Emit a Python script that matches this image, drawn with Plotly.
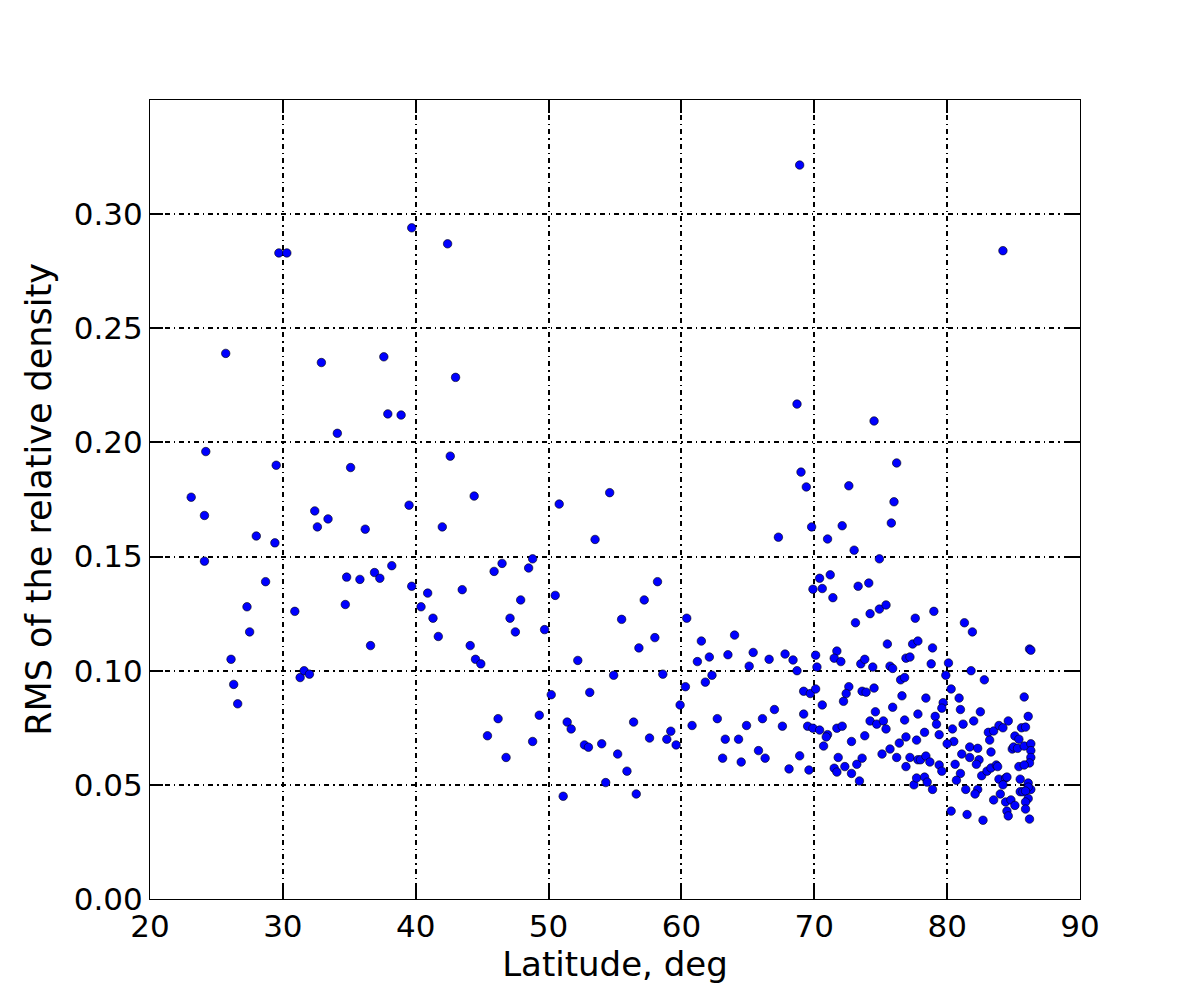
import plotly.graph_objects as go

# Latitude (deg) and RMS of the relative density
lat = [
 23.1, 24.1, 24.2, 24.1, 25.7, 26.1, 26.3, 26.6, 27.3, 27.5, 28.0, 28.7, 29.4, 29.5, 29.7, 30.3,
 30.9, 31.3, 31.6, 32.0, 32.4, 32.6, 32.9, 33.4, 34.1, 34.7, 34.8, 35.1, 35.8, 36.2, 36.6, 36.9,
 37.3, 37.6, 37.9, 38.2, 38.9, 39.5, 39.7, 39.7, 40.4, 40.9, 41.3, 41.7, 42.0, 42.4, 42.6, 43.0,
 43.5, 44.1, 44.4, 44.5, 44.9, 45.4, 45.9, 46.2, 46.5, 46.8, 47.1, 47.5, 47.9, 48.5, 48.8, 48.8,
 49.3, 49.7, 50.2, 50.5, 50.8, 51.1, 51.4, 51.7, 52.2, 52.7, 53.0, 53.1, 53.5, 54.0, 54.3, 54.6,
 54.9, 55.2, 55.5, 55.9, 56.4, 56.6, 56.8, 57.2, 57.6, 58.0, 58.2, 58.6, 58.9, 59.2, 59.6, 59.9,
 60.3, 60.4,
 61.2, 61.5, 62.1, 61.8, 62.3, 64.0, 63.5, 60.8, 62.7, 63.3, 64.3, 63.1,
 68.9, 84.2, 68.7, 74.5, 76.2, 69.0, 69.4, 72.6, 76.0, 69.8, 72.1, 75.8, 67.3, 71.0,
 73.0, 74.9, 70.4, 71.2, 69.9, 70.6, 71.4, 73.3, 74.1, 74.2, 74.9, 75.4, 73.1, 77.6,
 75.5, 77.4, 77.8, 65.4, 65.1, 66.6, 67.8, 68.4, 68.7, 70.1, 70.2, 71.7, 71.5, 72.0,
 73.5, 73.8, 74.4, 75.7, 75.9, 76.9, 77.2, 76.5, 76.8, 76.6, 75.9, 69.2, 69.7, 70.1,
 70.6, 72.6, 72.4, 72.2, 73.6, 73.9, 74.5, 74.6, 74.2, 74.7, 75.2, 75.4, 76.8, 77.8,
 67.0, 66.1, 64.9, 67.6, 69.2, 69.5, 69.9, 70.4, 71.0, 70.9, 70.7, 71.7, 72.1, 72.8,
 73.8, 64.5, 65.8, 66.3, 68.1, 68.9, 69.6, 71.8, 71.5, 71.7, 72.3, 72.8, 73.2, 73.6,
 73.4, 75.1, 75.7, 76.2, 76.4, 76.9, 77.2, 76.9, 77.5, 77.7, 77.7, 77.8,
 79.0, 81.3, 81.9, 78.9, 78.8, 80.1, 86.2, 86.3, 79.9, 81.8, 82.8, 80.3, 78.4, 79.7,
 79.6, 80.9, 81.0, 82.5, 85.8, 79.1, 79.2, 82.0, 81.2, 80.4, 78.3, 79.4, 80.5, 80.0,
 83.1, 83.5, 83.9, 84.2, 84.6, 83.2, 85.6, 85.9, 86.1, 85.1, 85.4, 81.7, 82.3, 81.1,
 81.7, 82.4, 82.2, 83.3, 84.9, 85.0, 85.3, 85.8, 86.3, 86.3, 86.3, 86.2, 85.4, 85.8,
 78.0, 78.4, 78.7, 79.4, 79.6, 80.6, 81.0, 80.7, 82.6, 83.0, 83.3, 83.7, 83.8, 78.3,
 78.5, 78.9, 83.9, 84.4, 84.5, 84.2, 85.5, 86.1, 86.3, 86.1, 81.4, 82.3, 82.1, 84.0,
 83.5, 85.5, 85.7, 85.9, 84.4, 84.8, 85.1, 86.1, 85.9, 80.3, 81.5, 82.7, 84.5, 84.6,
 85.9, 86.2,
]
rms = [
 0.176, 0.168, 0.196, 0.148, 0.239, 0.105, 0.094, 0.0855, 0.128, 0.117, 0.159, 0.139, 0.156, 0.190, 0.283, 0.283,
 0.126, 0.097, 0.100, 0.0985, 0.170, 0.163, 0.235, 0.1665, 0.204, 0.129, 0.141, 0.189, 0.140, 0.162, 0.111, 0.143,
 0.1405, 0.2375, 0.2125, 0.146, 0.212, 0.1725, 0.294, 0.137, 0.128, 0.134, 0.123, 0.115, 0.163, 0.287, 0.194, 0.2285,
 0.1355, 0.111, 0.1765, 0.105, 0.103, 0.0715, 0.1435, 0.079, 0.147, 0.062, 0.123, 0.117, 0.131, 0.145, 0.069, 0.149,
 0.0805, 0.118, 0.0895, 0.133, 0.173, 0.045, 0.0775, 0.0745, 0.1045, 0.0675, 0.0665, 0.0905, 0.1575, 0.068, 0.051, 0.178,
 0.098, 0.0635, 0.1225, 0.056, 0.0775, 0.046, 0.110, 0.131, 0.0705, 0.1145, 0.139, 0.0985, 0.070, 0.0735, 0.0675, 0.085,
 0.093, 0.123,
 0.104, 0.113, 0.106, 0.095, 0.098, 0.1156, 0.107, 0.076, 0.079, 0.070, 0.070, 0.0617,
 0.3215, 0.284, 0.2168, 0.2094, 0.191, 0.187, 0.1805, 0.181, 0.174, 0.163, 0.1635, 0.1647, 0.1585, 0.1577,
 0.1528, 0.149, 0.1405, 0.142, 0.1357, 0.136, 0.132, 0.137, 0.1384, 0.125, 0.127, 0.1288, 0.121, 0.123,
 0.1117, 0.1117, 0.113, 0.108, 0.102, 0.105, 0.1073, 0.1047, 0.100, 0.1068, 0.1016, 0.1086, 0.1055, 0.104,
 0.103, 0.105, 0.1016, 0.102, 0.101, 0.1055, 0.106, 0.096, 0.097, 0.089, 0.084, 0.091, 0.090, 0.092,
 0.085, 0.093, 0.090, 0.0866, 0.091, 0.0906, 0.0924, 0.082, 0.078, 0.0766, 0.078, 0.0745, 0.0784, 0.081,
 0.083, 0.079, 0.076, 0.0757, 0.081, 0.0757, 0.0748, 0.074, 0.072, 0.071, 0.067, 0.0748, 0.0757, 0.069,
 0.0715, 0.060, 0.065, 0.0617, 0.057, 0.0627, 0.0565, 0.062, 0.0573, 0.0556, 0.058, 0.055, 0.059, 0.0617,
 0.0517, 0.0635, 0.0657, 0.062, 0.0683, 0.071, 0.062, 0.058, 0.050, 0.053, 0.0696, 0.061,
 0.126, 0.121, 0.117, 0.110, 0.103, 0.1034, 0.1095, 0.109, 0.098, 0.100, 0.096, 0.092, 0.088, 0.086,
 0.0836, 0.088, 0.083, 0.082, 0.0885, 0.080, 0.0766, 0.078, 0.0766, 0.0745, 0.073, 0.072, 0.069, 0.068,
 0.073, 0.0736, 0.076, 0.075, 0.078, 0.0696, 0.075, 0.0753, 0.080, 0.0714, 0.070, 0.0666, 0.066, 0.0635,
 0.062, 0.061, 0.059, 0.0644, 0.0657, 0.0666, 0.066, 0.067, 0.068, 0.065, 0.062, 0.0596, 0.058, 0.0587,
 0.061, 0.0626, 0.060, 0.0587, 0.056, 0.059, 0.055, 0.052, 0.054, 0.056, 0.0574, 0.0587, 0.058, 0.0534,
 0.0512, 0.048, 0.0525, 0.053, 0.0534, 0.050, 0.0525, 0.0508, 0.048, 0.049, 0.048, 0.048, 0.046, 0.046,
 0.0434, 0.047, 0.047, 0.0473, 0.0425, 0.0434, 0.041, 0.044, 0.0425, 0.0385, 0.037, 0.0345, 0.0385, 0.0364,
 0.0394, 0.035,
]

x_ticks = [20, 30, 40, 50, 60, 70, 80, 90]
y_ticks = [0.00, 0.05, 0.10, 0.15, 0.20, 0.25, 0.30]
y_tick_labels = ["0.00", "0.05", "0.10", "0.15", "0.20", "0.25", "0.30"]

fig = go.Figure(go.Scatter(
    x=lat, y=rms, mode="markers",
    marker=dict(color="#0000ff", size=8.5, line=dict(color="black", width=0.6)),
    showlegend=False,
))

axis_common = dict(
    showline=True, linecolor="black", linewidth=1.2, mirror="allticks",
    ticks="inside", ticklen=13, tickwidth=2, tickcolor="black",
    showgrid=True, gridcolor="black", gridwidth=1.5, griddash="5px,4px,1.5px,4px",
    zeroline=False,
    tickfont=dict(family="DejaVu Sans", size=31, color="black"),
)

fig.update_xaxes(
    range=[20, 90], tickvals=x_ticks,
    title=dict(text="Latitude, deg", font=dict(family="DejaVu Sans", size=34, color="black"), standoff=6),
    **axis_common,
)
fig.update_yaxes(
    range=[0, 0.35], tickvals=y_ticks, ticktext=y_tick_labels,
    title=dict(text="RMS of the relative density", font=dict(family="DejaVu Sans", size=35, color="black"), standoff=11),
    **axis_common,
)

fig.update_layout(
    width=1200, height=1000,
    margin=dict(l=150, r=120, t=100, b=101),
    plot_bgcolor="white", paper_bgcolor="white",
    font=dict(family="DejaVu Sans", size=31, color="black"),
)

fig.write_html("out.html")
